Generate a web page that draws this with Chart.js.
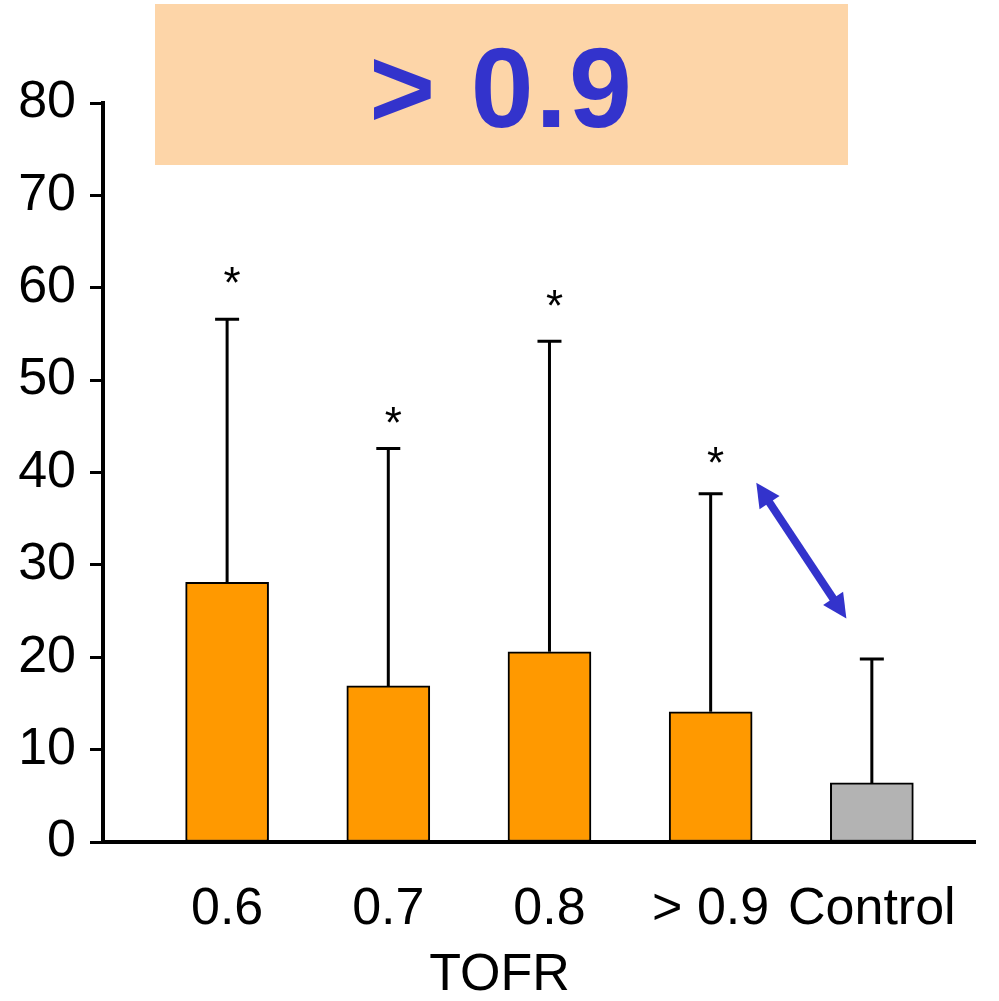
<!DOCTYPE html>
<html>
<head>
    <title>TOFR</title>
    <script src="https://cdn.jsdelivr.net/npm/chart.js@4.4.0/dist/chart.umd.min.js"></script>
    <style>
        html, body {
            margin: 0;
            padding: 0;
            background: #fff;
            font-family: "Liberation Sans", Arial, sans-serif;
        }
        .wrap {
            position: relative;
            width: 999px;
            height: 1001px;
        }
        .badge {
            position: absolute;
            left: 155px;
            top: 4px;
            width: 693px;
            height: 161px;
            background-color: #fdd5a8;
            color: #3333cc;
            font-weight: bold;
            font-size: 113px;
            line-height: 168px;
            text-align: center;
            letter-spacing: 2px;
        }
    </style>
</head>
<body>
<div class="wrap">
    <canvas id="tofrChart" width="999" height="1001"></canvas>
    <div class="badge">&gt; 0.9</div>
</div>
<script>
    // values
    const categories = ['0.6', '0.7', '0.8', '> 0.9', 'Control'];
    const means = [28.1, 16.9, 20.6, 14.1, 6.4];
    const upperErr = [56.6, 42.6, 54.2, 37.7, 19.8];   // top of the error bar
    const starY = [61.7, 46.6, 59.2, 42.2];             // the "*" marks above the first four bars
    const yTicks = [0, 10, 20, 30, 40, 50, 60, 70, 80];
    const arrowFrom = {x: 3.283, y: 38.9};
    const arrowTo = {x: 3.842, y: 24.2};

    const barColors = ['#ff9900', '#ff9900', '#ff9900', '#ff9900', '#b3b3b3'];

    const barPoints = categories.map(function (c, i) {
        return {x: i, y: means[i]};
    });

    // error bars, stars, arrow and the axis title
    const extras = {
        id: 'extras',
        afterDatasetsDraw(chart) {
            const ctx = chart.ctx;
            const xs = chart.scales.x;
            const ys = chart.scales.y;
            const bars = chart.getDatasetMeta(0).data;

            ctx.save();
            ctx.strokeStyle = '#000';
            ctx.lineWidth = 3;
            bars.forEach(function (bar, i) {
                const yTop = ys.getPixelForValue(upperErr[i]);
                ctx.beginPath();
                ctx.moveTo(bar.x, bar.y);
                ctx.lineTo(bar.x, yTop);
                ctx.moveTo(bar.x - 12, yTop);
                ctx.lineTo(bar.x + 12, yTop);
                ctx.stroke();
            });

            ctx.fillStyle = '#000';
            ctx.font = '44px "Liberation Sans", Arial, sans-serif';
            ctx.textAlign = 'center';
            ctx.textBaseline = 'alphabetic';
            starY.forEach(function (v, i) {
                ctx.fillText('*', xs.getPixelForValue(i) + 5, ys.getPixelForValue(v) + 26);
            });

            // axis title, centred on the figure
            ctx.font = '52px "Liberation Sans", Arial, sans-serif';
            ctx.textBaseline = 'middle';
            ctx.fillText('TOFR', chart.width / 2, 976);

            // double headed arrow
            const x1 = xs.getPixelForValue(arrowFrom.x), y1 = ys.getPixelForValue(arrowFrom.y);
            const x2 = xs.getPixelForValue(arrowTo.x), y2 = ys.getPixelForValue(arrowTo.y);
            const ang = Math.atan2(y2 - y1, x2 - x1);
            const headLen = 24, headHalf = 12;
            ctx.strokeStyle = '#3333cc';
            ctx.fillStyle = '#3333cc';
            ctx.lineWidth = 8;
            ctx.beginPath();
            ctx.moveTo(x1 + Math.cos(ang) * headLen * 0.8, y1 + Math.sin(ang) * headLen * 0.8);
            ctx.lineTo(x2 - Math.cos(ang) * headLen * 0.8, y2 - Math.sin(ang) * headLen * 0.8);
            ctx.stroke();
            function head(tx, ty, a) {
                const bx = tx - Math.cos(a) * headLen, by = ty - Math.sin(a) * headLen;
                ctx.beginPath();
                ctx.moveTo(tx, ty);
                ctx.lineTo(bx + Math.sin(a) * headHalf, by - Math.cos(a) * headHalf);
                ctx.lineTo(bx - Math.sin(a) * headHalf, by + Math.cos(a) * headHalf);
                ctx.closePath();
                ctx.fill();
            }
            head(x2, y2, ang);
            head(x1, y1, ang + Math.PI);
            ctx.restore();
        }
    };

    const chart = new Chart('tofrChart', {
        type: 'bar',
        data: {
            datasets: [{
                data: barPoints,
                backgroundColor: barColors,
                borderColor: '#000',
                borderWidth: 2,
                borderSkipped: false,
                barThickness: 83
            }]
        },
        options: {
            responsive: false,
            animation: false,
            layout: {
                padding: {top: 103, right: 24, left: 0, bottom: 0}
            },
            plugins: {
                legend: {display: false},
                tooltip: {enabled: false}
            },
            scales: {
                x: {
                    type: 'linear',
                    offset: false,
                    min: -0.77,
                    max: 4.64,
                    afterFit: function (scale) {
                        scale.height = 159;
                    },
                    afterBuildTicks: function (scale) {
                        scale.ticks = categories.map(function (c, i) {
                            return {value: i};
                        });
                    },
                    grid: {display: false, drawTicks: false, offset: false},
                    border: {display: true, color: '#000', width: 4},
                    ticks: {
                        padding: 36,
                        color: '#000',
                        font: {family: '"Liberation Sans", Arial, sans-serif', size: 52},
                        callback: function (v) {
                            return categories[v];
                        }
                    }
                },
                y: {
                    min: 0,
                    max: 80,
                    afterFit: function (scale) {
                        scale.width = 103;
                    },
                    afterBuildTicks: function (scale) {
                        scale.ticks = yTicks.map(function (v) {
                            return {value: v};
                        });
                    },
                    grid: {
                        drawOnChartArea: false,
                        drawTicks: true,
                        tickLength: 13,
                        tickWidth: 3,
                        tickColor: '#000'
                    },
                    border: {display: true, color: '#000', width: 4},
                    ticks: {
                        padding: 14,
                        color: '#000',
                        font: {family: '"Liberation Sans", Arial, sans-serif', size: 52}
                    }
                }
            }
        },
        plugins: [extras]
    });
</script>
</body>
</html>
